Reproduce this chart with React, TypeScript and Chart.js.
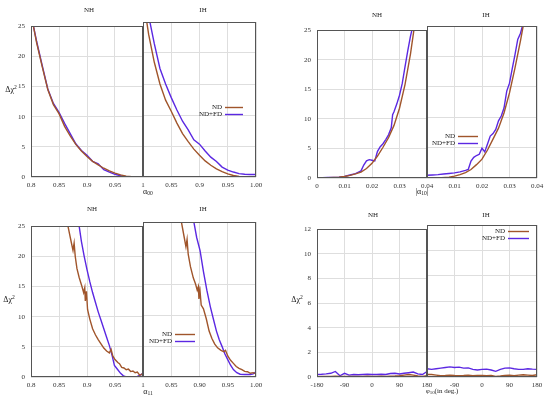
import React, { useEffect, useRef } from 'react';
import { Chart, registerables } from 'chart.js';
Chart.register(...registerables);

// ---------------- data ----------------
// alpha_00 panel
const a00X = [0.80, 0.81, 0.82, 0.83, 0.84, 0.85, 0.86, 0.87, 0.88, 0.89, 0.90, 0.91, 0.92, 0.93, 0.94, 0.95, 0.96, 0.97, 0.98, 0.99, 1.00];
const a00NH_ND = [27, 22.3, 18.3, 14.5, 12.0, 10.5, 8.4, 6.8, 5.4, 4.3, 3.4, 2.6, 2.0, 1.45, 1.0, 0.65, 0.35, 0.15, 0.05, 0, 0];
const a00NH_NDFD = [27, 22.5, 18.5, 14.6, 12.2, 10.7, 8.9, 7.2, 5.5, 4.4, 3.6, 2.6, 2.2, 1.2, 0.8, 0.45, 0.2, 0.05, 0, 0, 0];
const a00IH_ND = [29, 23, 18.5, 15, 12.4, 10.6, 8.7, 7.0, 5.7, 4.5, 3.5, 2.6, 1.9, 1.3, 0.85, 0.5, 0.25, 0.08, 0.02, 0, 0];
const a00IH_NDFD = [33, 26, 21.5, 17.5, 15, 12.8, 10.8, 9.0, 7.6, 6.0, 5.3, 4.2, 3.2, 2.5, 1.6, 1.1, 0.8, 0.55, 0.45, 0.4, 0.4];

// |alpha_10| panel
const a10NH_ND_X = [0, 0.002, 0.004, 0.006, 0.008, 0.010, 0.012, 0.014, 0.016, 0.018, 0.020, 0.022, 0.024, 0.026, 0.028, 0.030, 0.032, 0.034, 0.036];
const a10NH_ND = [0, 0.02, 0.06, 0.1, 0.15, 0.25, 0.45, 0.7, 1.0, 1.6, 2.5, 3.7, 5.2, 6.8, 8.9, 11.8, 15.8, 21.0, 27.5];
const a10NH_NDFD_X = [0, 0.002, 0.004, 0.006, 0.008, 0.010, 0.012, 0.014, 0.016, 0.017, 0.018, 0.019, 0.020, 0.021, 0.022, 0.023, 0.024, 0.025, 0.026, 0.027, 0.0275, 0.028, 0.029, 0.030, 0.031, 0.032, 0.033, 0.034, 0.035];
const a10NH_NDFD = [0, 0.05, 0.1, 0.1, 0.15, 0.25, 0.5, 0.75, 1.2, 2.2, 2.9, 3.1, 3.0, 2.9, 4.5, 5.3, 5.8, 6.5, 7.3, 8.5, 10.7, 11.2, 12.5, 14.0, 16.0, 18.8, 21.5, 24.0, 26];
const a10IH_ND_X = [0, 0.004, 0.008, 0.010, 0.012, 0.014, 0.016, 0.018, 0.020, 0.022, 0.024, 0.026, 0.028, 0.030, 0.032, 0.034, 0.036];
const a10IH_ND = [0, 0.02, 0.15, 0.3, 0.55, 0.9, 1.4, 2.2, 3.1, 4.6, 6.4, 8.2, 10.7, 14.0, 18.1, 22.6, 27.5];
const a10IH_NDFD_X = [0, 0.002, 0.004, 0.006, 0.008, 0.010, 0.012, 0.014, 0.015, 0.016, 0.017, 0.018, 0.019, 0.020, 0.021, 0.022, 0.023, 0.024, 0.025, 0.026, 0.027, 0.028, 0.029, 0.030, 0.031, 0.032, 0.033, 0.034, 0.035];
const a10IH_NDFD = [0.45, 0.5, 0.55, 0.65, 0.75, 0.85, 1.0, 1.25, 1.4, 2.8, 3.4, 3.7, 3.9, 4.9, 4.3, 5.6, 6.9, 7.3, 8.0, 9.4, 10.2, 11.5, 14.3, 15.6, 18.0, 20.3, 22.8, 23.8, 25.5];

// alpha_11 panel
const a11NH_ND_X = [0.862, 0.866, 0.872, 0.875, 0.877, 0.879, 0.882, 0.886, 0.891, 0.894, 0.896, 0.897, 0.899, 0.901, 0.905, 0.910, 0.915, 0.920, 0.925, 0.930, 0.935, 0.940, 0.943, 0.946, 0.950, 0.955, 0.958, 0.962, 0.966, 0.970, 0.974, 0.978, 0.982, 0.986, 0.990, 0.994, 0.997, 1.0];
const a11NH_ND = [27, 25, 22.3, 21.0, 22.2, 20.0, 18.0, 16.5, 15.0, 14.0, 14.8, 12.6, 14.2, 11.2, 9.6, 8.0, 7.0, 6.2, 5.5, 4.8, 4.3, 4.0, 4.6, 3.5, 2.9, 2.4, 2.2, 1.6, 1.5, 1.2, 1.3, 0.9, 1.0, 0.7, 0.8, 0.3, 0.4, 0.6];
const a11NH_NDFD_X = [0.883, 0.886, 0.890, 0.895, 0.900, 0.905, 0.910, 0.915, 0.920, 0.925, 0.930, 0.935, 0.940, 0.945, 0.949, 0.955, 0.960, 0.965, 0.969, 0.980, 0.990, 0.995, 1.0];
const a11NH_NDFD = [27, 25, 22.5, 20.0, 17.8, 15.8, 14.0, 12.4, 10.8, 9.4, 8.0, 6.6, 5.2, 3.5, 1.9, 1.2, 0.6, 0.2, 0.05, 0.05, 0.1, 0.3, 0.6];
const a11IH_ND_X = [0.864, 0.868, 0.873, 0.876, 0.878, 0.880, 0.884, 0.889, 0.893, 0.896, 0.898, 0.899, 0.901, 0.903, 0.907, 0.912, 0.917, 0.922, 0.927, 0.932, 0.938, 0.943, 0.946, 0.950, 0.955, 0.960, 0.965, 0.970, 0.975, 0.980, 0.985, 0.990, 0.995, 1.0];
const a11IH_ND = [27, 25, 22.5, 21.0, 22.2, 19.8, 17.8, 16.0, 15.0, 14.0, 14.6, 12.6, 13.8, 11.6, 11.0, 9.4, 7.4, 6.2, 5.3, 4.7, 4.3, 4.1, 4.3, 3.4, 2.7, 2.2, 1.7, 1.4, 1.2, 0.9, 0.85, 0.6, 0.7, 0.5];
const a11IH_NDFD_X = [0.887, 0.890, 0.895, 0.901, 0.907, 0.913, 0.919, 0.925, 0.930, 0.935, 0.940, 0.945, 0.950, 0.955, 0.960, 0.966, 0.972, 0.980, 0.990, 0.995, 1.0];
const a11IH_NDFD = [27, 25, 22.5, 20.4, 17.0, 14.0, 11.4, 9.2, 7.4, 6.0, 4.9, 3.7, 2.8, 1.9, 1.2, 0.7, 0.45, 0.4, 0.4, 0.5, 0.85];

// phi_10 panel
const phiX = [-180, -165, -150, -135, -120, -105, -90, -75, -60, -45, -30, -15, 0, 15, 30, 45, 60, 75, 90, 105, 120, 135, 150, 165, 180];
const phiNH_ND = [0.03, 0.04, 0.05, 0.05, 0.06, 0.04, 0.05, 0.05, 0.04, 0.05, 0.05, 0.06, 0.05, 0.05, 0.06, 0.05, 0.07, 0.08, 0.1, 0.15, 0.2, 0.15, 0.08, 0.05, 0.1];
const phiNH_NDFD = [0.2, 0.22, 0.25, 0.3, 0.45, 0.1, 0.3, 0.15, 0.2, 0.18, 0.2, 0.22, 0.2, 0.2, 0.22, 0.2, 0.28, 0.3, 0.25, 0.3, 0.35, 0.4, 0.25, 0.2, 0.45];
const phiIH_ND = [0.2, 0.2, 0.15, 0.1, 0.12, 0.15, 0.12, 0.1, 0.12, 0.15, 0.1, 0.12, 0.12, 0.1, 0.12, 0.05, 0.08, 0.12, 0.15, 0.1, 0.15, 0.18, 0.15, 0.12, 0.18];
const phiIH_NDFD = [0.65, 0.6, 0.65, 0.7, 0.75, 0.8, 0.75, 0.78, 0.7, 0.72, 0.6, 0.55, 0.6, 0.62, 0.55, 0.45, 0.6, 0.7, 0.72, 0.65, 0.6, 0.6, 0.65, 0.62, 0.6];

const SERIES_LABELS = ['ND', 'ND+FD'];

// ---------------- styles ----------------
const C_ND = '#a0552b';
const C_NDFD = '#5b28e2';
const FONT = '"Liberation Serif", "DejaVu Serif", serif';
const PAD_L = 40;
const PAD_R = 14;
const PAD_T = 6;
const PAD_B = 20;

Chart.defaults.font.family = FONT;

const pts = (xs: number[], ys: number[]) => xs.map((x, i) => ({ x, y: ys[i] }));

const boxPlugin = {
  id: 'gnuBox',
  afterDatasetsDraw(chart: any) {
    const { ctx, chartArea } = chart;
    const l = Math.round(chartArea.left) + 0.5;
    const r = Math.round(chartArea.right) - 0.5;
    const t = Math.round(chartArea.top) + 0.5;
    const b = Math.round(chartArea.bottom) - 0.5;
    ctx.save();
    ctx.strokeStyle = '#555';
    ctx.lineWidth = 1;
    ctx.strokeRect(l, t, r - l, b - t);
    ctx.restore();
  },
};

const legendPlugin = {
  id: 'gnuLegend',
  afterDatasetsDraw(chart: any, _args: any, opts: any) {
    if (!opts || opts.x === undefined) return;
    const { ctx, chartArea } = chart;
    ctx.save();
    ctx.font = `7px ${FONT}`;
    ctx.textAlign = 'right';
    ctx.textBaseline = 'middle';
    chart.data.datasets.forEach((ds: any, i: number) => {
      const y = Math.round(chartArea.top + opts.y + i * opts.dy) + 0.5;
      const x = chartArea.left + opts.x;
      ctx.fillStyle = '#222';
      ctx.fillText(ds.label, x, y);
      ctx.strokeStyle = ds.borderColor;
      ctx.lineWidth = 1.4;
      ctx.beginPath();
      ctx.moveTo(x + 3, y);
      ctx.lineTo(x + 3 + opts.len, y);
      ctx.stroke();
    });
    ctx.restore();
  },
};

type Cfg = {
  left: number; top: number; w: number; h: number;
  xMin: number; xMax: number; xStep: number;
  yMax: number; yStep: number;
  showY: boolean; hideFirst: boolean;
  fmt: (v: number) => string;
  nd: { x: number; y: number }[];
  ndfd: { x: number; y: number }[];
  legend?: { x: number; y: number; dy: number; len: number };
};

function Panel(p: Cfg) {
  const ref = useRef<HTMLCanvasElement>(null);
  const cw = p.w + PAD_L + PAD_R;
  const ch = p.h + PAD_T + PAD_B;
  useEffect(() => {
    const c = ref.current!;
    const chart = new Chart(c, {
      type: 'line',
      data: {
        datasets: [
          { label: SERIES_LABELS[0], data: p.nd, borderColor: C_ND, borderWidth: 1.4, pointRadius: 0, fill: false, tension: 0 },
          { label: SERIES_LABELS[1], data: p.ndfd, borderColor: C_NDFD, borderWidth: 1.4, pointRadius: 0, fill: false, tension: 0 },
        ],
      },
      options: {
        responsive: false,
        animation: false,
        devicePixelRatio: 1,
        layout: { padding: { left: p.showY ? 0 : PAD_L, right: PAD_R, top: PAD_T, bottom: 0 } },
        plugins: {
          legend: { display: false },
          tooltip: { enabled: false },
          gnuLegend: p.legend ? p.legend : {},
        } as any,
        scales: {
          x: {
            type: 'linear',
            min: p.xMin,
            max: p.xMax,
            afterFit: (s: any) => { s.height = PAD_B; },
            grid: { color: '#dedede', lineWidth: 1, drawTicks: false },
            border: { display: false },
            ticks: {
              stepSize: p.xStep,
              autoSkip: false,
              maxRotation: 0,
              padding: 4,
              color: '#333',
              font: { size: 7, family: FONT },
              callback: (v: any, i: number) => (p.hideFirst && i === 0 ? '' : p.fmt(Number(v))),
            },
          },
          y: {
            type: 'linear',
            min: 0,
            max: p.yMax,
            afterFit: (s: any) => { s.width = p.showY ? PAD_L : 0; },
            grid: { color: '#dedede', lineWidth: 1, drawTicks: false },
            border: { display: false },
            ticks: {
              display: p.showY,
              stepSize: p.yStep,
              padding: 6,
              color: '#333',
              font: { size: 7, family: FONT },
            },
          },
        },
      } as any,
      plugins: [boxPlugin, legendPlugin],
    });
    return () => chart.destroy();
  }, []);
  return (
    <canvas
      ref={ref}
      width={cw}
      height={ch}
      style={{ position: 'absolute', left: p.left - PAD_L, top: p.top - PAD_T, width: cw, height: ch, display: 'block' }}
    />
  );
}

function Label({ x, y, children, size = 7 }: { x: number; y: number; children: React.ReactNode; size?: number }) {
  return (
    <div
      style={{
        position: 'absolute', left: x, top: y, transform: 'translate(-50%, -50%)',
        fontFamily: FONT, fontSize: size, lineHeight: 1, color: '#222', whiteSpace: 'nowrap',
      }}
    >
      {children}
    </div>
  );
}

const subStyle: React.CSSProperties = { fontSize: '70%', verticalAlign: '-0.25em', lineHeight: 0 };
const supStyle: React.CSSProperties = { fontSize: '70%', verticalAlign: '0.45em', lineHeight: 0 };

const fmtShort = (v: number) => String(+v.toFixed(3));
const fmtA00IH = (v: number) => (Math.abs(v - 1) < 1e-9 ? '1.00' : String(+v.toFixed(2)));
const fmtFixed2 = (v: number) => v.toFixed(2);
const fmtInt = (v: number) => String(Math.round(v));

const DChi = () => (<span>Δχ<span style={supStyle}>2</span></span>);

export default function App() {
  const panels: Cfg[] = [
    // top-left alpha_00
    { left: 31, top: 22, w: 112, h: 155, xMin: 0.8, xMax: 1.0, xStep: 0.05, yMax: 25, yStep: 5, showY: true, hideFirst: false, fmt: fmtShort,
      nd: pts(a00X, a00NH_ND), ndfd: pts(a00X, a00NH_NDFD) },
    { left: 143, top: 22, w: 113, h: 155, xMin: 0.8, xMax: 1.0, xStep: 0.05, yMax: 25, yStep: 5, showY: false, hideFirst: true, fmt: fmtA00IH,
      nd: pts(a00X, a00IH_ND), ndfd: pts(a00X, a00IH_NDFD), legend: { x: 79, y: 85, dy: 7, len: 18 } },
    // top-right |alpha_10|
    { left: 317, top: 26, w: 110, h: 152, xMin: 0, xMax: 0.04, xStep: 0.01, yMax: 25, yStep: 5, showY: true, hideFirst: false, fmt: fmtShort,
      nd: pts(a10NH_ND_X, a10NH_ND), ndfd: pts(a10NH_NDFD_X, a10NH_NDFD) },
    { left: 427, top: 26, w: 110, h: 152, xMin: 0, xMax: 0.04, xStep: 0.01, yMax: 25, yStep: 5, showY: false, hideFirst: true, fmt: fmtShort,
      nd: pts(a10IH_ND_X, a10IH_ND), ndfd: pts(a10IH_NDFD_X, a10IH_NDFD), legend: { x: 28, y: 110, dy: 7, len: 20 } },
    // bottom-left alpha_11
    { left: 31, top: 222, w: 112, h: 155, xMin: 0.8, xMax: 1.0, xStep: 0.05, yMax: 25, yStep: 5, showY: true, hideFirst: false, fmt: fmtShort,
      nd: pts(a11NH_ND_X, a11NH_ND), ndfd: pts(a11NH_NDFD_X, a11NH_NDFD) },
    { left: 143, top: 222, w: 113, h: 155, xMin: 0.8, xMax: 1.0, xStep: 0.05, yMax: 25, yStep: 5, showY: false, hideFirst: true, fmt: fmtFixed2,
      nd: pts(a11IH_ND_X, a11IH_ND), ndfd: pts(a11IH_NDFD_X, a11IH_NDFD), legend: { x: 29, y: 112, dy: 7, len: 20 } },
    // bottom-right phi_10
    { left: 317, top: 225, w: 110, h: 152, xMin: -180, xMax: 180, xStep: 90, yMax: 12, yStep: 2, showY: true, hideFirst: false, fmt: fmtInt,
      nd: pts(phiX, phiNH_ND), ndfd: pts(phiX, phiNH_NDFD) },
    { left: 427, top: 225, w: 110, h: 152, xMin: -180, xMax: 180, xStep: 90, yMax: 12, yStep: 2, showY: false, hideFirst: true, fmt: fmtInt,
      nd: pts(phiX, phiIH_ND), ndfd: pts(phiX, phiIH_NDFD), legend: { x: 78, y: 6, dy: 6.5, len: 21 } },
  ];

  return (
    <div style={{ position: 'absolute', left: 0, top: 0, width: 550, height: 399, background: '#fff', overflow: 'hidden' }}>
      {panels.map((p, i) => <Panel key={i} {...p} />)}
      <Label x={89} y={10}>NH</Label>
      <Label x={203} y={10}>IH</Label>
      <Label x={377} y={15}>NH</Label>
      <Label x={486} y={15}>IH</Label>
      <Label x={92} y={209}>NH</Label>
      <Label x={203} y={209}>IH</Label>
      <Label x={373} y={215}>NH</Label>
      <Label x={486} y={215}>IH</Label>
      <Label x={11} y={90} size={8}><DChi /></Label>
      <Label x={9} y={300} size={8}><DChi /></Label>
      <Label x={297} y={300} size={8}><DChi /></Label>
      <Label x={148} y={192} size={8}><span>α<span style={subStyle}>00</span></span></Label>
      <Label x={422} y={192} size={8}><span>|α<span style={subStyle}>10</span>|</span></Label>
      <Label x={148} y={392} size={8}><span>α<span style={subStyle}>11</span></span></Label>
      <Label x={442} y={391} size={7}><span>φ<span style={subStyle}>10</span>(in deg.)</span></Label>
    </div>
  );
}
